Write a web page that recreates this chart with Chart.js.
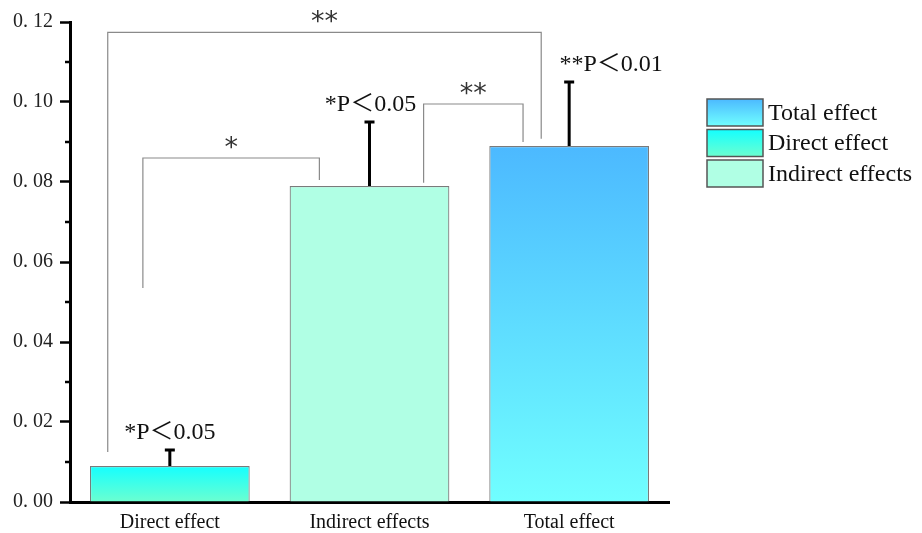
<!DOCTYPE html>
<html>
<head>
<meta charset="utf-8">
<script src="https://cdn.jsdelivr.net/npm/chart.js@4/dist/chart.umd.min.js"></script>
<style>
  html, body { margin: 0; padding: 0; background: #fff; }
  #wrap { width: 922px; height: 533px; position: relative; }
</style>
</head>
<body>
<div id="wrap"><canvas id="graph" width="922" height="533"></canvas></div>
<script>
// data
const categories = ['Direct effect', 'Indirect effects', 'Total effect'];
const effectValues = [0.009, 0.079, 0.089];
const errorTops = [0.013, 0.095, 0.105];
const pLabels = ['*P\uFF1C0.05', '*P\uFF1C0.05', '**P\uFF1C0.01'];
const yTicks = [0, 0.02, 0.04, 0.06, 0.08, 0.10, 0.12];
const legendLabels = ['Total effect', 'Direct effect', 'Indirect effects'];

// significance brackets: [left index, right index, top value, left leg end, right leg end, mark]
const brackets = [
    [-0.135, 0.749, 0.086, 0.0535, 0.0805, '*'],
    [1.271, 1.769, 0.0995, 0.0798, 0.090, '**'],
    [-0.311, 1.86, 0.1174, 0.0125, 0.0908, '**'],
];

const SERIF = '"Liberation Serif", "Times New Roman", "Noto Sans CJK SC", serif';
const labelShift = [0, 1, 42];

const fills = [
    ['#14ffff', '#6cffd0'],
    ['#b0ffe4', '#b0ffe4'],
    ['#4cb9ff', '#70ffff'],
];

const extras = {
    id: 'extras',
    afterDatasetsDraw(chart) {
        const ctx = chart.ctx;
        const x = chart.scales.x, y = chart.scales.y;
        ctx.save();

        // minor ticks
        ctx.strokeStyle = '#000';
        ctx.lineWidth = 2.5;
        for (let i = 0; i < yTicks.length - 1; i++) {
            const py = y.getPixelForValue((yTicks[i] + yTicks[i + 1]) / 2);
            ctx.beginPath();
            ctx.moveTo(65, py);
            ctx.lineTo(70, py);
            ctx.stroke();
        }

        // error bars
        ctx.lineWidth = 3;
        effectValues.forEach((v, i) => {
            const px = x.getPixelForValue(i);
            const y0 = y.getPixelForValue(v);
            const y1 = y.getPixelForValue(errorTops[i]);
            ctx.beginPath();
            ctx.moveTo(px, y0);
            ctx.lineTo(px, y1);
            ctx.moveTo(px - 5, y1);
            ctx.lineTo(px + 5, y1);
            ctx.stroke();
        });

        // p labels
        ctx.fillStyle = '#111';
        ctx.font = '24px ' + SERIF;
        ctx.textAlign = 'center';
        ctx.textBaseline = 'alphabetic';
        pLabels.forEach((t, i) => {
            const px = x.getPixelForValue(i) + labelShift[i];
            const py = y.getPixelForValue(errorTops[i]) - 11;
            ctx.fillText(t, px, py);
        });

        // brackets
        ctx.strokeStyle = '#8a8a8a';
        ctx.lineWidth = 1.2;
        brackets.forEach(b => {
            const xl = x.getPixelForValue(b[0]);
            const xr = x.getPixelForValue(b[1]);
            const yt = y.getPixelForValue(b[2]);
            ctx.beginPath();
            ctx.moveTo(xl, y.getPixelForValue(b[3]));
            ctx.lineTo(xl, yt);
            ctx.lineTo(xr, yt);
            ctx.lineTo(xr, y.getPixelForValue(b[4]));
            ctx.stroke();
            ctx.font = '27px "DejaVu Sans", sans-serif';
            ctx.fillStyle = '#333';
            ctx.textBaseline = 'middle';
            ctx.fillText(b[5], (xl + xr) / 2, yt - 9);
        });

        // legend
        const order = [2, 0, 1];
        ctx.font = '24px ' + SERIF;
        ctx.textAlign = 'left';
        ctx.textBaseline = 'middle';
        legendLabels.forEach((t, k) => {
            const bx = 707, by = 99 + k * 30.5, bw = 56, bh = 27;
            const c = fills[order[k]];
            const g = ctx.createLinearGradient(0, by, 0, by + bh);
            g.addColorStop(0, c[0]);
            g.addColorStop(1, c[1]);
            ctx.fillStyle = g;
            ctx.fillRect(bx, by, bw, bh);
            ctx.strokeStyle = '#555';
            ctx.lineWidth = 1.5;
            ctx.strokeRect(bx, by, bw, bh);
            ctx.fillStyle = '#111';
            ctx.fillText(t, 768, by + bh / 2 + 1);
        });
        ctx.restore();
    }
};

const ctx = document.getElementById('graph');
new Chart(ctx, {
    type: 'bar',
    data: {
        labels: categories,
        datasets: [{
            label: 'effect',
            data: effectValues,
            backgroundColor: (c) => {
                const f = fills[c.dataIndex];
                const ys = c.chart.scales.y;
                if (!ys || !c.chart.chartArea) return f[0];
                const top = ys.getPixelForValue(effectValues[c.dataIndex]);
                const bottom = ys.getPixelForValue(0);
                const g = c.chart.ctx.createLinearGradient(0, top, 0, bottom);
                g.addColorStop(0, f[0]);
                g.addColorStop(1, f[1]);
                return g;
            },
            borderColor: '#7a7a7a',
            borderWidth: 1.2,
            borderSkipped: 'bottom',
            barPercentage: 0.8,
            categoryPercentage: 1,
        }],
    },
    options: {
        responsive: false,
        animation: false,
        devicePixelRatio: 1,
        layout: { padding: { left: 0, top: 22, right: 253, bottom: 0 } },
        plugins: { legend: { display: false }, tooltip: { enabled: false } },
        scales: {
            x: {
                grid: { display: false },
                border: { color: '#000', width: 3 },
                ticks: { color: '#111', font: { family: SERIF, size: 20 }, padding: 1 },
                afterFit(s) { s.height = 31; },
            },
            y: {
                min: 0,
                max: 0.12,
                afterBuildTicks(s) { s.ticks = yTicks.map(v => ({ value: v })); },
                grid: { drawOnChartArea: false, drawTicks: true, tickLength: 10, tickColor: '#000', tickWidth: 2.5 },
                border: { color: '#000', width: 3 },
                ticks: {
                    color: '#222',
                    padding: 7,
                    font: { family: '"Liberation Serif", serif', size: 20 },
                    callback: (v) => '0. ' + (Math.round(v * 100) + '').padStart(2, '0'),
                },
                afterFit(s) { s.width = 70; },
            },
        },
    },
    plugins: [extras],
});
</script>
</body>
</html>
